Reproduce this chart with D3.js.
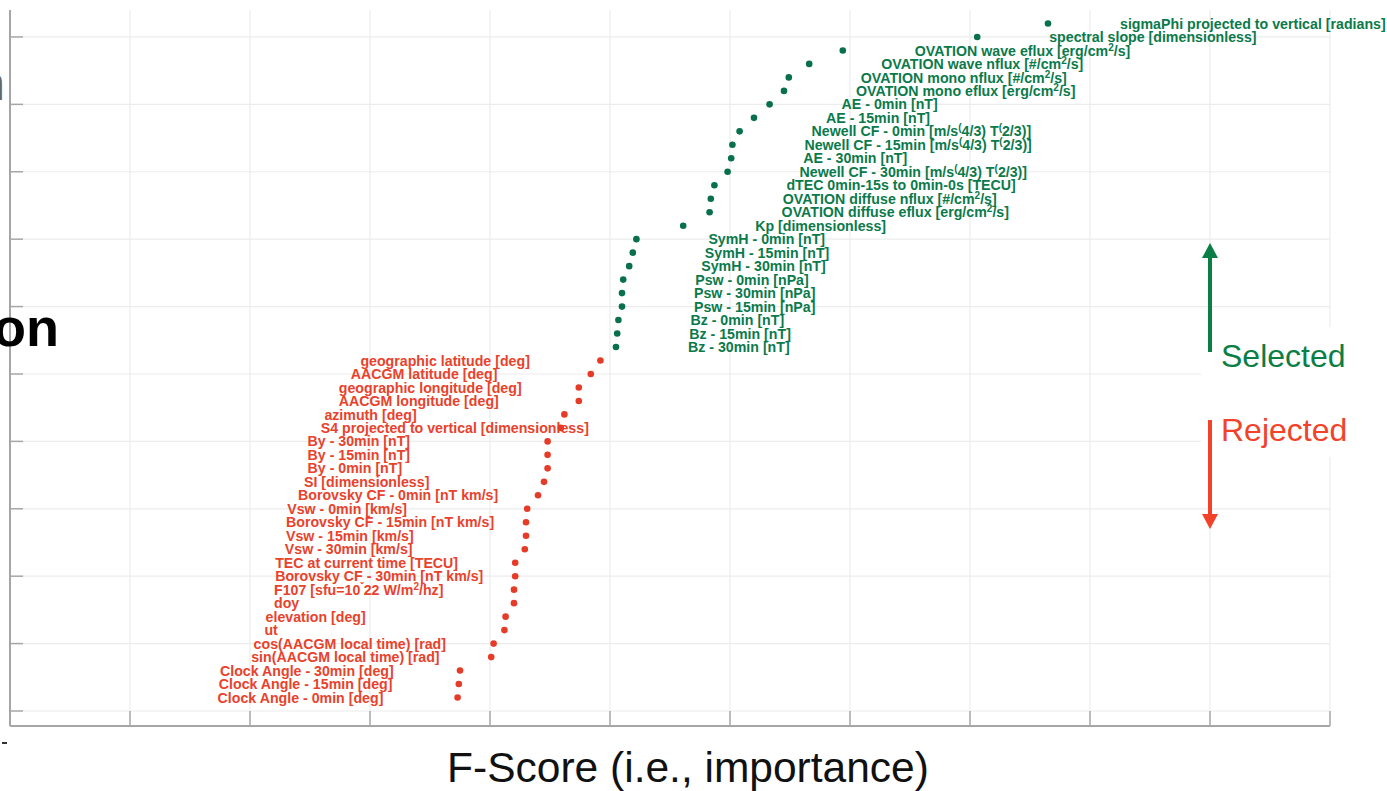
<!DOCTYPE html>
<html>
<head>
<meta charset="utf-8">
<script src="https://cdn.jsdelivr.net/npm/d3@7"></script>
<style>
  body { margin: 0; background: #fff; }
  svg { display: block; font-family: "Liberation Sans", Arial, Helvetica, sans-serif; }
</style>
</head>
<body>
<svg id="chart" width="1387" height="791"></svg>
<script>
// Features ranked by F-score, top to bottom. "^{..}" marks a superscript.
const selectedNames = [
  "sigmaPhi projected to vertical [radians]",
  "spectral slope [dimensionless]",
  "OVATION wave eflux [erg/cm^{2}/s]",
  "OVATION wave nflux [#/cm^{2}/s]",
  "OVATION mono nflux [#/cm^{2}/s]",
  "OVATION mono eflux [erg/cm^{2}/s]",
  "AE - 0min [nT]",
  "AE - 15min [nT]",
  "Newell CF - 0min [m/s^{(}4/3) T^{(}2/3)]",
  "Newell CF - 15min [m/s^{(}4/3) T^{(}2/3)]",
  "AE - 30min [nT]",
  "Newell CF - 30min [m/s^{(}4/3) T^{(}2/3)]",
  "dTEC 0min-15s to 0min-0s [TECU]",
  "OVATION diffuse nflux [#/cm^{2}/s]",
  "OVATION diffuse eflux [erg/cm^{2}/s]",
  "Kp [dimensionless]",
  "SymH - 0min [nT]",
  "SymH - 15min [nT]",
  "SymH - 30min [nT]",
  "Psw - 0min [nPa]",
  "Psw - 30min [nPa]",
  "Psw - 15min [nPa]",
  "Bz - 0min [nT]",
  "Bz - 15min [nT]",
  "Bz - 30min [nT]"
];
const selectedScores = [
  8.65, 8.06, 6.94, 6.66, 6.49, 6.45, 6.33, 6.20, 6.08, 6.02,
  6.01, 5.98, 5.87, 5.84, 5.83, 5.61, 5.22, 5.19, 5.16, 5.11,
  5.10, 5.10, 5.07, 5.06, 5.05
];

const rejectedNames = [
  "geographic latitude [deg]",
  "AACGM latitude [deg]",
  "geographic longitude [deg]",
  "AACGM longitude [deg]",
  "azimuth [deg]",
  "S4 projected to vertical [dimensionless]",
  "By - 30min [nT]",
  "By - 15min [nT]",
  "By - 0min [nT]",
  "SI [dimensionless]",
  "Borovsky CF - 0min [nT km/s]",
  "Vsw - 0min [km/s]",
  "Borovsky CF - 15min [nT km/s]",
  "Vsw - 15min [km/s]",
  "Vsw - 30min [km/s]",
  "TEC at current time [TECU]",
  "Borovsky CF - 30min [nT km/s]",
  "F107 [sfu=10^{ˇ}22 W/m^{2}/hz]",
  "doy",
  "elevation [deg]",
  "ut",
  "cos(AACGM local time) [rad]",
  "sin(AACGM local time) [rad]",
  "Clock Angle - 30min [deg]",
  "Clock Angle - 15min [deg]",
  "Clock Angle - 0min [deg]"
];
const rejectedScores = [
  4.92, 4.84, 4.74, 4.74, 4.62, 4.59, 4.48, 4.48, 4.48, 4.45,
  4.40, 4.31, 4.30, 4.30, 4.29, 4.21, 4.21, 4.20, 4.20, 4.13,
  4.12, 4.03, 4.01, 3.75, 3.74, 3.73
];

const xTicks = d3.range(0, 12);     // F-score grid, no labels shown
const yTicks = d3.range(0, 51, 5);  // rank grid, no labels shown

const GREEN = "#0b7a4b", GREEN_DOT = "#08704a";
const RED = "#e9422c", RED_DOT = "#e63b27";

// combine into one ranked list (rank counted from the bottom)
const total = selectedNames.length + rejectedNames.length;
const rows = selectedNames.map((n, i) => ({ name: n, score: selectedScores[i], sel: true }))
  .concat(rejectedNames.map((n, i) => ({ name: n, score: rejectedScores[i], sel: false })));
rows.forEach((d, i) => d.rank = total - i);

const svg = d3.select("#chart");

const x = d3.scaleLinear().domain([0, 11]).range([10, 1330]);
const y = d3.scaleLinear().domain([0, 52]).range([711, 10]);
const axisY = 726;

// grid
svg.append("g").selectAll("line").data(xTicks.slice(1)).join("line")
  .attr("x1", d => x(d)).attr("x2", d => x(d))
  .attr("y1", y(52)).attr("y2", y(0))
  .attr("stroke", "#ececec").attr("stroke-width", 1.2);
svg.append("g").selectAll("line").data(yTicks).join("line")
  .attr("x1", 23).attr("x2", x(11))
  .attr("y1", d => y(d)).attr("y2", d => y(d))
  .attr("stroke", "#ececec").attr("stroke-width", 1.2);

// axes (box-style: bottom line offset below the zero row)
const axisColor = "#a6a6a6";
svg.append("line").attr("x1", x(0)).attr("x2", x(0)).attr("y1", y(52)).attr("y2", axisY)
  .attr("stroke", axisColor).attr("stroke-width", 2);
svg.append("line").attr("x1", x(0)).attr("x2", x(11)).attr("y1", axisY).attr("y2", axisY)
  .attr("stroke", axisColor).attr("stroke-width", 2);
svg.append("g").selectAll("line").data(xTicks).join("line")
  .attr("x1", d => x(d)).attr("x2", d => x(d))
  .attr("y1", axisY).attr("y2", y(0))
  .attr("stroke", axisColor).attr("stroke-width", 1.5);
svg.append("g").selectAll("line").data(yTicks).join("line")
  .attr("x1", x(0)).attr("x2", 23)
  .attr("y1", d => y(d)).attr("y2", d => y(d))
  .attr("stroke", axisColor).attr("stroke-width", 1.5);

// white patch behind the legend arrows
svg.append("rect").attr("x", 1201).attr("y", 327).attr("width", 160).attr("height", 130)
  .attr("fill", "#fff");

// labels with simple superscript support
function richText(sel, str) {
  const parts = str.split(/(\^\{[^}]*\})/).filter(p => p.length);
  let raised = false;
  parts.forEach(p => {
    if (p.startsWith("^{")) {
      sel.append("tspan").attr("dy", -5).attr("font-size", 10).text(p.slice(2, -1));
      raised = true;
    } else {
      const t = sel.append("tspan").text(p);
      if (raised) { t.attr("dy", 5); raised = false; }
    }
  });
}

svg.append("g").selectAll("text").data(rows).join("text")
  .attr("x", d => d.sel ? x(d.score) + 72 : x(d.score) - 240)
  .attr("y", d => y(d.rank))
  .attr("dy", "0.36em")
  .attr("font-size", 14.2)
  .attr("font-weight", "bold")
  .attr("fill", d => d.sel ? GREEN : RED)
  .each(function(d) { richText(d3.select(this), d.name); });

// points
svg.append("g").selectAll("circle").data(rows).join("circle")
  .attr("cx", d => x(d.score))
  .attr("cy", d => y(d.rank))
  .attr("r", 3.3)
  .attr("fill", d => d.sel ? GREEN_DOT : RED_DOT);

// Selected / Rejected arrows
const ax = x(10);
svg.append("rect").attr("x", ax - 2).attr("y", 256).attr("width", 4).attr("height", 96).attr("fill", "#0a7e45");
svg.append("path").attr("d", `M${ax - 8},258 L${ax},243 L${ax + 8},258 Z`).attr("fill", "#0a7e45");
svg.append("rect").attr("x", ax - 2).attr("y", 420).attr("width", 4).attr("height", 96).attr("fill", "#f2432a");
svg.append("path").attr("d", `M${ax - 8},514 L${ax},529 L${ax + 8},514 Z`).attr("fill", "#f2432a");

svg.append("text").attr("x", 1221).attr("y", 367).attr("font-size", 32)
  .attr("fill", "#0a7e45").text("Selected");
svg.append("text").attr("x", 1221).attr("y", 441).attr("font-size", 32)
  .attr("fill", "#f2432a").text("Rejected");

// axis title
svg.append("text").attr("x", 688).attr("y", 782).attr("text-anchor", "middle")
  .attr("font-size", 42.5).attr("fill", "#111").text("F-Score (i.e., importance)");

// fragments of the surrounding slide text, cut off at the left edge
svg.append("text").attr("x", 59).attr("y", 346).attr("text-anchor", "end")
  .attr("font-size", 54).attr("font-weight", "bold").attr("fill", "#000").text("on");
svg.append("text").attr("x", 5).attr("y", 100).attr("text-anchor", "end")
  .attr("font-size", 48).attr("fill", "#666").text("n");
svg.append("rect").attr("x", 2).attr("y", 742).attr("width", 5).attr("height", 2).attr("fill", "#333");
</script>
</body>
</html>
